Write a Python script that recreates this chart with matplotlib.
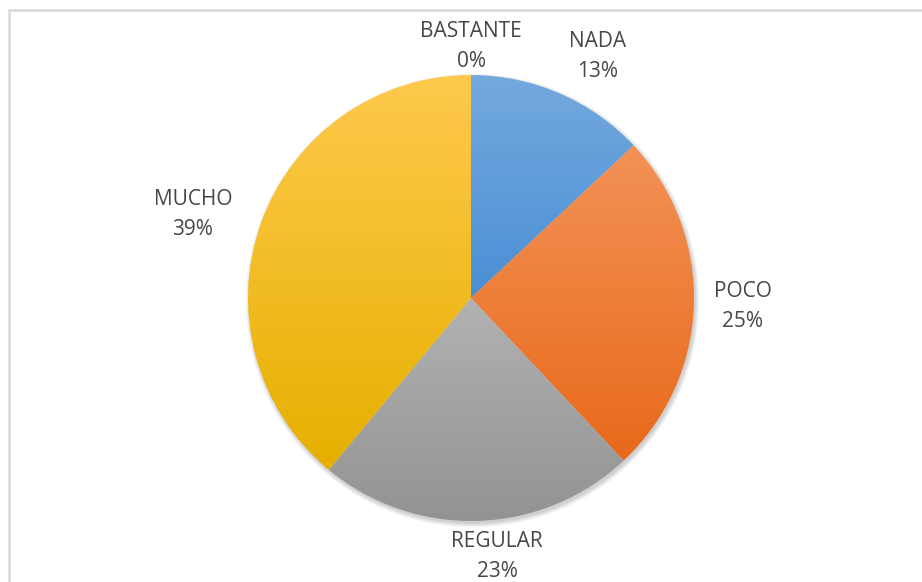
import matplotlib
matplotlib.use("Agg")
import matplotlib.pyplot as plt
import numpy as np
from matplotlib.colors import LinearSegmentedColormap
from matplotlib.patches import Rectangle, Circle

# datos del grafico
categorias = ["NADA", "POCO", "REGULAR", "MUCHO", "BASTANTE"]
porcentajes = [13, 25, 23, 39, 0]

# colores arriba (claro) y abajo (oscuro) de cada sector
colores_claros = ["#74a9de", "#f39257", "#b2b2b2", "#ffc94d"]
colores_oscuros = ["#4a8fd5", "#e8691a", "#939393", "#e6b000"]
# posicion de las etiquetas: distancia (en radios) y correccion de angulo
distancias = [1.233, 1.22, 1.153, 1.305, 1.14]
correcciones = [-4.1, 0.5, 4.0, 2.6, 0.0]

plt.rcParams['font.family'] = ['Open Sans', 'DejaVu Sans']

fig = plt.figure(figsize=(9.22, 5.82), dpi=100)
ax = fig.add_axes([0, 0, 1, 1])

centro = (471, 284)
radio = 223

# borde del area del grafico
ax.add_patch(Rectangle((8.5, -10), 1000, 582 - 9.5 + 10, fill=False,
                       edgecolor="#d9d9d9", linewidth=1.8, zorder=0))

# sombra suave
for k in range(8):
    ax.add_patch(Circle((centro[0] + 1.5, centro[1] - 2.5), radio + 4 - k * 0.6,
                        facecolor="#000000", alpha=0.025, edgecolor="none", zorder=1))

sectores, _ = ax.pie(porcentajes, startangle=90, counterclock=False,
                     center=centro, radius=radio, frame=True,
                     colors=["none"] * len(porcentajes),
                     wedgeprops=dict(linewidth=0))

gradiente = np.linspace(0, 1, 256).reshape(-1, 1)
for i, w in enumerate(sectores):
    if porcentajes[i] == 0:
        continue
    ext = w.get_path().get_extents(w.get_patch_transform())
    cmap = LinearSegmentedColormap.from_list("g%d" % i, [colores_oscuros[i], colores_claros[i]])
    im = ax.imshow(gradiente, cmap=cmap, origin="lower", aspect="auto",
                   extent=(ext.x0, ext.x1, ext.y0, ext.y1), zorder=2)
    im.set_clip_path(w)

# etiquetas
acum = 0
for i, nombre in enumerate(categorias):
    medio = 90 - (acum + porcentajes[i] / 2) * 3.6 + correcciones[i]
    acum += porcentajes[i]
    ang = np.deg2rad(medio)
    x = centro[0] + distancias[i] * radio * np.cos(ang)
    y = centro[1] + distancias[i] * radio * np.sin(ang) - 2.5
    ax.text(x, y, "%s\n%d%%" % (nombre, porcentajes[i]), ha="center", va="center",
            fontsize=15, color="#474747", linespacing=1.55, zorder=3)

ax.set_xlim(0, 922)
ax.set_ylim(0, 582)
ax.set_aspect("equal")
ax.axis("off")
fig.savefig("out.png", dpi=100)
